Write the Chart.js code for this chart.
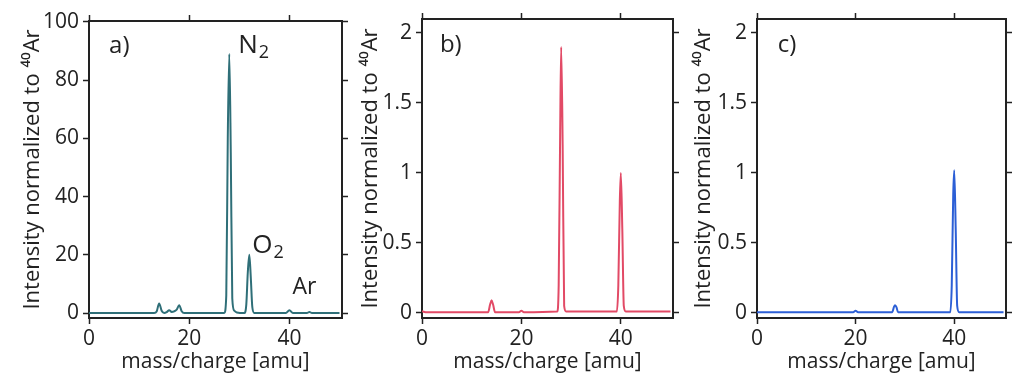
<!DOCTYPE html>
<html>
<head>
<meta charset="utf-8">
<script src="https://cdn.jsdelivr.net/npm/chart.js@4.4.1/dist/chart.umd.min.js"></script>
<style>
  html, body { margin: 0; padding: 0; background: #fff; }
  body { width: 1012px; height: 379px; position: relative; overflow: hidden; }
  .panel { position: absolute; top: 0; height: 379px; }
  #chartA { left: 0; width: 360px; }
  #chartB { left: 345px; width: 345px; }
  #chartC { left: 677px; width: 335px; }
</style>
</head>
<body>
<div class="panel" id="chartA"><canvas id="cA"></canvas></div>
<div class="panel" id="chartB"><canvas id="cB"></canvas></div>
<div class="panel" id="chartC"><canvas id="cC"></canvas></div>
<script>
// spectrum a) - air
const massA = [0, 13, 13.5, 14, 14.5, 15, 15.5, 16, 16.5, 17, 17.5, 18, 18.5, 19, 27, 27.4, 27.7, 28, 28.3, 28.6, 29, 29.5, 31, 31.4, 31.7, 32, 32.3, 32.6, 33, 39.3, 40, 40.7, 43.5, 44, 44.5, 50];
const intensityA = [0, 0, 0.5, 3.3, 0.8, 0, 0.3, 1.0, 0.4, 0.6, 1.2, 2.7, 0.6, 0, 0, 6, 60, 89, 55, 5, 0.8, 0.2, 0, 3, 14, 20, 12, 2, 0, 0, 1.0, 0, 0, 0.4, 0, 0];

// spectrum b)
const massB = [0, 1, 13.3, 13.7, 14, 14.3, 14.7, 19.5, 20, 20.5, 27.2, 27.5, 27.8, 28, 28.3, 28.6, 29, 39.2, 39.5, 39.8, 40, 40.3, 40.6, 41, 50];
const intensityB = [0.012, 0.005, 0.005, 0.06, 0.09, 0.06, 0.005, 0.005, 0.015, 0.005, 0.01, 0.2, 1.3, 1.9, 1.2, 0.05, 0.01, 0.01, 0.2, 0.8, 1.0, 0.6, 0.05, 0.01, 0.01];

// spectrum c)
const massC = [0, 19.5, 20, 20.5, 27.4, 27.8, 28, 28.3, 28.6, 39.2, 39.5, 39.8, 40, 40.3, 40.6, 41, 50];
const intensityC = [0.005, 0.005, 0.015, 0.005, 0.005, 0.045, 0.055, 0.04, 0.005, 0.005, 0.2, 0.85, 1.02, 0.6, 0.05, 0.005, 0.005];

const xTicks = [0, 20, 40];
const yTicksA = [0, 20, 40, 60, 80, 100];
const yTicksBC = [0, 0.5, 1, 1.5, 2];

const FONT = "'Open Sans', Lato, sans-serif";
const INK = "#222";

const labelsPlugin = {
	id: "peakLabels",
	afterDatasetsDraw(chart, args, opts) {
		const { ctx, scales } = chart;
		ctx.save();
		ctx.fillStyle = INK;
		ctx.textBaseline = "middle";
		ctx.textAlign = "left";
		(opts.items || []).forEach(item => {
			const x = scales.x.getPixelForValue(item.x);
			const y = scales.y.getPixelForValue(item.y);
			ctx.font = `${item.size}px ${FONT}`;
			ctx.fillText(item.text, x, y);
			if (item.sub) {
				const w = ctx.measureText(item.text).width;
				ctx.font = `${Math.round(item.size * 0.7)}px ${FONT}`;
				ctx.fillText(item.sub, x + w + 1, y + 8);
			}
		});
		ctx.restore();
	},
};

const fixed = size => scale => {
	if (scale.isHorizontal()) scale.height = size;
	else scale.width = size;
};
const setTicks = list => scale => {
	scale.ticks = list.map(v => ({ value: v }));
};

function makeChart(id, mass, intensity, color, opts) {
	const points = mass.map((m, i) => ({ x: m, y: intensity[i] }));
	const frameGrid = {
		drawOnChartArea: false,
		drawTicks: true,
		tickLength: 6,
		tickWidth: 1.5,
		color: INK,
	};
	const border = { display: true, color: INK, width: 2 };
	return new Chart(document.getElementById(id), {
		type: "line",
		data: {
			datasets: [
				{
					data: points,
					borderColor: color,
					borderWidth: 2,
					pointRadius: 0,
					fill: false,
					cubicInterpolationMode: "monotone",
				},
			],
		},
		plugins: [labelsPlugin],
		options: {
			animation: false,
			responsive: true,
			maintainAspectRatio: false,
			layout: { padding: { top: opts.padTop, right: opts.padRight, bottom: 0, left: 0 } },
			plugins: {
				legend: { display: false },
				tooltip: { enabled: false },
				peakLabels: { items: opts.labels },
			},
			scales: {
				x: {
					type: "linear",
					position: "bottom",
					min: 0,
					max: 50.5,
					afterBuildTicks: setTicks(xTicks),
					afterFit: fixed(61),
					grid: frameGrid,
					border,
					ticks: { color: INK, font: { family: FONT, size: 21 }, padding: 2, maxRotation: 0 },
					title: {
						display: true,
						text: "mass/charge [amu]",
						color: INK,
						font: { family: FONT, size: 21 },
						padding: { top: 0, bottom: 4 },
					},
				},
				x2: {
					type: "linear",
					position: "top",
					min: 0,
					max: 50.5,
					afterBuildTicks: setTicks(xTicks),
					afterFit: fixed(6),
					grid: frameGrid,
					border,
					ticks: { display: false },
				},
				y: {
					type: "linear",
					position: "left",
					min: opts.yMin,
					max: opts.yMax,
					afterBuildTicks: setTicks(opts.yTicks),
					afterFit: fixed(opts.yWidth),
					grid: frameGrid,
					border,
					ticks: {
						color: INK,
						font: { family: FONT, size: 21 },
						padding: 4,
						callback: v => String(v),
					},
					title: {
						display: true,
						text: "Intensity normalized to \u2074\u2070Ar",
						color: INK,
						font: { family: FONT, size: 22 },
						padding: { top: opts.titlePad, bottom: 0 },
					},
				},
				y2: {
					type: "linear",
					position: "right",
					min: opts.yMin,
					max: opts.yMax,
					afterBuildTicks: setTicks(opts.yTicks),
					afterFit: fixed(6),
					grid: frameGrid,
					border,
					ticks: { display: false },
				},
			},
		},
	});
}

makeChart("cA", massA, intensityA, "#2f6f78", {
	yMin: -1.7, yMax: 100.3, yTicks: yTicksA, yWidth: 89, titlePad: 20,
	padTop: 15, padRight: 12,
	labels: [
		{ text: "a)", x: 4.0, y: 91.5, size: 24 },
		{ text: "N", sub: "2", x: 29.8, y: 92, size: 26 },
		{ text: "O", sub: "2", x: 32.6, y: 23.3, size: 26 },
		{ text: "Ar", x: 40.6, y: 8.9, size: 23 },
	],
});

makeChart("cB", massB, intensityB, "#e24a66", {
	yMin: -0.036, yMax: 2.1, yTicks: yTicksBC, yWidth: 77, titlePad: 13,
	padTop: 13, padRight: 11,
	labels: [{ text: "b)", x: 3.6, y: 1.91, size: 24 }],
});

makeChart("cC", massC, intensityC, "#2c5fd6", {
	yMin: -0.036, yMax: 2.1, yTicks: yTicksBC, yWidth: 80, titlePad: 14,
	padTop: 13, padRight: 0,
	labels: [{ text: "c)", x: 4.2, y: 1.91, size: 24 }],
});
</script>
</body>
</html>
